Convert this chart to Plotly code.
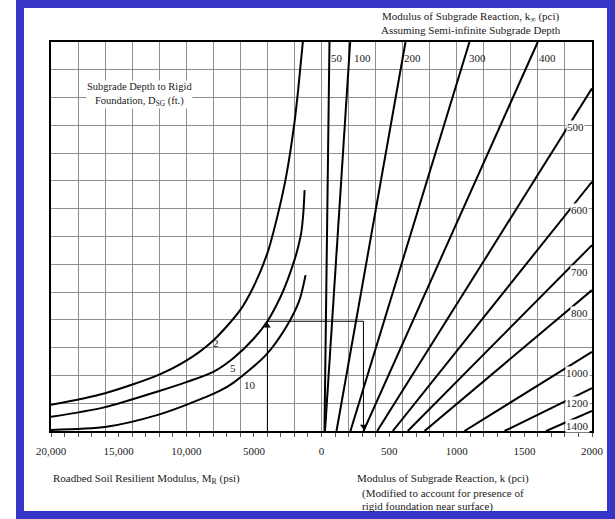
import numpy as np
import plotly.graph_objects as go

# ---------------- data ----------------
# Left half: roadbed soil resilient modulus M_R (psi) vs chart height (grid rows 0..14)
DSG_LABELS = ["2", "5", "10"]
MR_D2 = [20000, 16000, 12000, 10000, 8000, 6000, 5000, 4000, 3200, 2600, 2000, 1700, 1380]
Y_D2 = [0.94, 1.36, 2.03, 2.53, 3.26, 4.36, 5.22, 6.40, 7.85, 9.20, 11.10, 12.40, 14.0]
MR_D5 = [20000, 16000, 12000, 10000, 8000, 6500, 5000, 4000, 3000, 2500, 2000, 1700, 1500, 1350, 1250]
Y_D5 = [0.51, 0.86, 1.44, 1.76, 2.13, 2.63, 3.33, 3.95, 4.86, 5.45, 6.15, 6.68, 7.13, 7.80, 8.67]
MR_D10 = [20000, 15900, 12100, 10000, 7500, 6500, 4100, 2600, 1630, 1180]
Y_D10 = [0.04, 0.15, 0.58, 0.94, 1.45, 1.74, 2.74, 3.75, 4.71, 5.61]

# Right half: k_inf lines (pci); bottom intercept k and end point (k, height)
KINF_LABELS = ["50", "100", "200", "300", "400", "500", "600", "700", "800", "1000", "1200", "1400"]
K_BOTTOM = [22, 26, 111, 214, 311, 412, 527, 638, 762, 1057, 1353, 1661]
K_END = [59, 212, 621, 1094, 1599, 2000, 2000, 2000, 2000, 2000, 2000, 2000]
Y_END = [14, 14, 14, 14, 14, 12.33, 8.97, 6.69, 5.07, 2.85, 1.54, 0.72]

# Worked example
EX_MR = 4000
EX_K = 310

# Tick labels
MR_TICKS = [20000, 15000, 10000, 5000]
K_TICKS = [0, 500, 1000, 1500, 2000]
MR_TICK_TEXT = ["20,000", "15,000", "10,000", "5000"]
K_TICK_TEXT = ["0", "500", "1000", "1500", "2000"]


def mr_x(v):
    return -np.asarray(v, dtype=float) / 1000.0


def k_x(v):
    return np.asarray(v, dtype=float) / 100.0


SERIF = "Liberation Serif, Times New Roman, serif"
TXT = "#1a1a1a"

fig = go.Figure()

for mr, yy in [(MR_D2, Y_D2), (MR_D5, Y_D5), (MR_D10, Y_D10)]:
    fig.add_trace(go.Scatter(x=mr_x(mr), y=yy, mode="lines",
                             line=dict(color="black", width=2, shape="spline", smoothing=0.8),
                             hoverinfo="skip", showlegend=False))

for kb, ke, ye in zip(K_BOTTOM, K_END, Y_END):
    fig.add_trace(go.Scatter(x=k_x([kb, ke]), y=[0, ye], mode="lines",
                             line=dict(color="black", width=2),
                             hoverinfo="skip", showlegend=False))

# example path
ex_y = float(np.interp(EX_MR, MR_D5[::-1], Y_D5[::-1]))
ex_x0 = float(mr_x([EX_MR])[0])
ex_x1 = float(k_x([EX_K])[0])
fig.add_trace(go.Scatter(x=[ex_x0, ex_x0, ex_x1, ex_x1], y=[0, ex_y, ex_y, 0], mode="lines",
                         line=dict(color="black", width=1), hoverinfo="skip", showlegend=False))
fig.add_trace(go.Scatter(x=[ex_x0], y=[ex_y - 0.17], mode="markers",
                         marker=dict(symbol="triangle-up", size=6, color="black"),
                         hoverinfo="skip", showlegend=False))
fig.add_trace(go.Scatter(x=[ex_x1], y=[0.17], mode="markers",
                         marker=dict(symbol="triangle-down", size=6, color="black"),
                         hoverinfo="skip", showlegend=False))

# dummy trace for the labelled overlay axis
fig.add_trace(go.Scatter(x=[], y=[], xaxis="x2", showlegend=False, hoverinfo="skip"))

ann = []
# curve labels
for lab, (xx, yy) in zip(DSG_LABELS, [(-7.79, 3.17), (-6.51, 2.27), (-5.32, 1.66)]):
    ann.append(dict(x=xx, y=yy, text=lab, showarrow=False, font=dict(family=SERIF, size=11, color=TXT)))

# k_inf labels
kpos = [(1.13, 13.41), (3.05, 13.41), (6.73, 13.41), (11.56, 13.41), (16.71, 13.41),
        (18.78, 10.95), (19.08, 7.95), (19.08, 5.73), (19.08, 4.24),
        (18.95, 2.10), (18.95, 1.0), (18.95, 0.19)]
for i, (lab, (xx, yy)) in enumerate(zip(KINF_LABELS, kpos)):
    ann.append(dict(x=xx, y=yy, text=lab, showarrow=False, bgcolor="white" if i >= 5 else None,
                    borderpad=0, font=dict(family=SERIF, size=11, color=TXT)))

ann.append(dict(x=-13.46, y=12.1, text="Subgrade Depth to Rigid<br>Foundation, D<sub>SG</sub> (ft.)",
                showarrow=False, bgcolor="white", borderpad=0, align="center",
                font=dict(family=SERIF, size=10.5, color=TXT)))


def px_to_paper(px, py):
    return (px - 51) / 541.0, (431 - py) / 389.0


for text, px, py, anchor in [
    ("Modulus of Subgrade Reaction, k<sub>∞</sub> (pci)", 471, 17, "center"),
    ("Assuming Semi-infinite Subgrade Depth", 471, 30, "center"),
    ("Roadbed Soil Resilient Modulus, M<sub>R</sub> (psi)", 51, 479, "left"),
    ("Modulus of Subgrade Reaction, k (pci)", 355, 479, "left"),
    ("(Modified to account for presence of", 360, 493, "left"),
    ("rigid foundation near surface)", 360, 506, "left"),
]:
    X, Y = px_to_paper(px, py)
    ann.append(dict(x=X, y=Y, xref="paper", yref="paper", text=text, showarrow=False,
                    xanchor=anchor, yanchor="middle", font=dict(family=SERIF, size=11, color=TXT)))

# blue frame
BLUE = "#3535c6"
shapes = []
for (x0, y0, x1, y1) in [(16, 0, 24, 519), (16, 0, 615, 8), (607, 0, 615, 519), (16, 511, 615, 519)]:
    X0, Y0 = px_to_paper(x0, y0)
    X1, Y1 = px_to_paper(x1, y1)
    shapes.append(dict(type="rect", xref="paper", yref="paper", x0=X0, y0=Y0, x1=X1, y1=Y1,
                       fillcolor=BLUE, line=dict(width=0), layer="above"))

fig.update_layout(
    width=615, height=519,
    margin=dict(l=51, r=23, t=42, b=88),
    paper_bgcolor="white", plot_bgcolor="white",
    showlegend=False,
    annotations=ann, shapes=shapes,
    xaxis=dict(range=[-20, 20], tickmode="linear", tick0=0, dtick=2, showgrid=True,
               gridcolor="#8f8f8f", gridwidth=1, zeroline=False, showticklabels=False,
               ticks="outside", ticklen=4, tickcolor="#555",
               minor=dict(dtick=1, ticks="outside", ticklen=4, tickcolor="#555", showgrid=False),
               showline=True, mirror=True, linecolor="black", linewidth=2),
    xaxis2=dict(range=[-20, 20], overlaying="x", anchor="y", side="bottom",
                tickmode="array",
                tickvals=list(mr_x(MR_TICKS)) + list(k_x(K_TICKS)),
                ticktext=MR_TICK_TEXT + K_TICK_TEXT,
                ticks="", showgrid=False, zeroline=False, showline=False,
                ticklabelstandoff=12,
                tickfont=dict(family=SERIF, size=11, color=TXT)),
    yaxis=dict(range=[0, 14], tickmode="linear", tick0=0, dtick=1, showgrid=True,
               gridcolor="#8f8f8f", gridwidth=1, zeroline=False, showticklabels=False,
               ticks="", showline=True, mirror=True, linecolor="black", linewidth=2),
)

fig.write_html("out.html", config={"displayModeBar": False},
               post_script="document.body.style.margin='0px';")
